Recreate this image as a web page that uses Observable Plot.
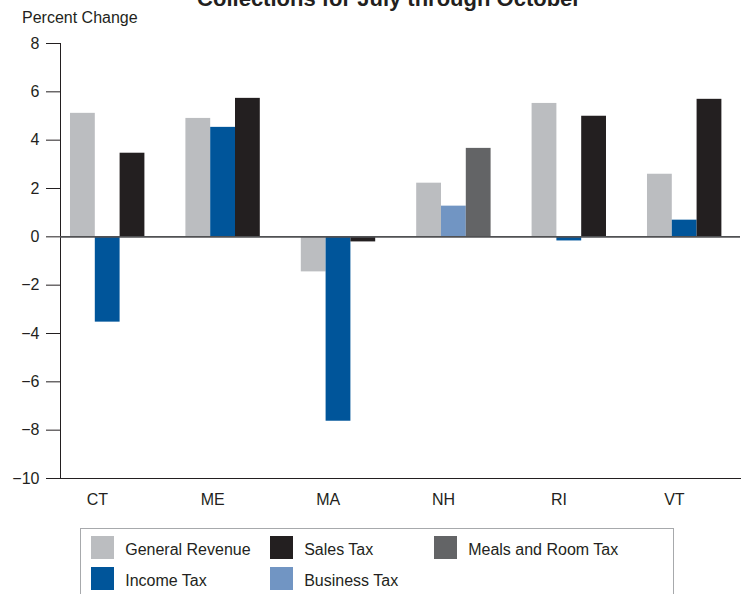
<!DOCTYPE html>
<html>
<head>
<meta charset="utf-8">
<script src="https://cdn.jsdelivr.net/npm/d3@7"></script>
<script src="https://cdn.jsdelivr.net/npm/@observablehq/plot@0.6"></script>
<style>
  html, body { margin: 0; padding: 0; background: #fff; overflow: hidden; }
  #wrap { position: relative; width: 745px; height: 594px; font-family: "Liberation Sans", Arial, sans-serif; color: #231f20; }
  #title { position: absolute; left: 0; width: 778px; top: -11.6px; text-align: center; font-size: 22px; line-height: 22px; font-weight: bold; white-space: nowrap; }
  #ylabel { position: absolute; left: 22px; top: 9.8px; font-size: 16px; line-height: 16px; white-space: nowrap; }
  #chart { position: absolute; left: 0; top: 0; }
  #legend { position: absolute; left: 80px; top: 528px; width: 594px; height: 90px; border: 1.5px solid #a7a9ac; box-sizing: border-box;
            display: grid; grid-template-columns: 179px 164px auto; grid-auto-rows: 31px; padding: 7px 0 0 10.2px; }
  .item { display: flex; align-items: flex-start; font-size: 16px; line-height: normal; white-space: nowrap; }
  .sw { width: 23px; height: 23px; margin-right: 11px; flex: none; }
  .lbl { margin-top: 5.2px; }
</style>
</head>
<body>
<div id="wrap">
  <div id="chart"></div>
  <div id="title">Collections for July through October</div>
  <div id="ylabel">Percent Change</div>
  <div id="legend"></div>
</div>
<script>
// ---- data ----
const states = ["CT", "ME", "MA", "NH", "RI", "VT"];
const seriesNames = ["General Revenue", "Income Tax", "Business Tax", "Sales Tax", "Meals and Room Tax"];
const generalRevenue = [5.11, 4.90, -1.45, 2.22, 5.52, 2.59];
const incomeTax      = [-3.53, 4.53, -7.63, null, -0.17, 0.69];
const businessTax    = [null, null, null, 1.27, null, null];
const salesTax       = [3.46, 5.73, -0.21, null, 4.99, 5.69];
const mealsRoomTax   = [null, null, null, 3.66, null, null];
const yTicks = [-10, -8, -6, -4, -2, 0, 2, 4, 6, 8];
const legendOrder = ["General Revenue", "Sales Tax", "Meals and Room Tax", "Income Tax", "Business Tax"];
const colors = ["#bbbdc0", "#00559a", "#7195c3", "#231f20", "#636466"];

// ---- layout helpers ----
const seriesValues = [generalRevenue, incomeTax, businessTax, salesTax, mealsRoomTax];
const slotOf = {"General Revenue": 0, "Income Tax": 1, "Business Tax": 1, "Sales Tax": 2, "Meals and Room Tax": 2};
const barW = 0.2149;          // bar width in group units
const labelOffset = 0.233;    // state label position within group
const xDomain = [-0.0867, 5.806];

const rows = [];
seriesNames.forEach((s, k) => {
  seriesValues[k].forEach((v, i) => {
    if (v !== null) rows.push({state: states[i], g: i, series: s, slot: slotOf[s], value: v});
  });
});

const fmt = d => d < 0 ? "\u2212" + Math.abs(d) : String(d);

const chart = Plot.plot({
  width: 745,
  height: 520,
  marginTop: 43,
  marginBottom: 42,
  marginLeft: 60,
  marginRight: 5,
  style: {fontFamily: "'Liberation Sans', Arial, sans-serif", fontSize: "16px", color: "#231f20", background: "transparent"},
  x: {
    domain: xDomain,
    ticks: states.map((s, i) => i + labelOffset),
    tickFormat: d => states[Math.round(d - labelOffset)],
    tickSize: 0,
    tickPadding: 15,
    label: null,
    line: true
  },
  y: {
    domain: [-10, 8],
    ticks: yTicks,
    tickFormat: fmt,
    tickSize: 14,
    tickPadding: 7,
    label: null,
    line: true
  },
  color: {domain: seriesNames, range: colors},
  marks: [
    Plot.rectY(rows, {
      x1: d => d.g + d.slot * barW,
      x2: d => d.g + (d.slot + 1) * barW,
      y1: 0,
      y2: "value",
      fill: "series",
      inset: 0
    }),
    Plot.ruleY([0], {stroke: "#505153", strokeWidth: 1.8})
  ]
});
document.getElementById("chart").appendChild(chart);

// ---- legend ----
const legend = document.getElementById("legend");
legendOrder.forEach(name => {
  const item = document.createElement("div");
  item.className = "item";
  const sw = document.createElement("div");
  sw.className = "sw";
  sw.style.background = colors[seriesNames.indexOf(name)];
  const lbl = document.createElement("span");
  lbl.className = "lbl";
  lbl.textContent = name;
  item.appendChild(sw);
  item.appendChild(lbl);
  legend.appendChild(item);
});
</script>
</body>
</html>
